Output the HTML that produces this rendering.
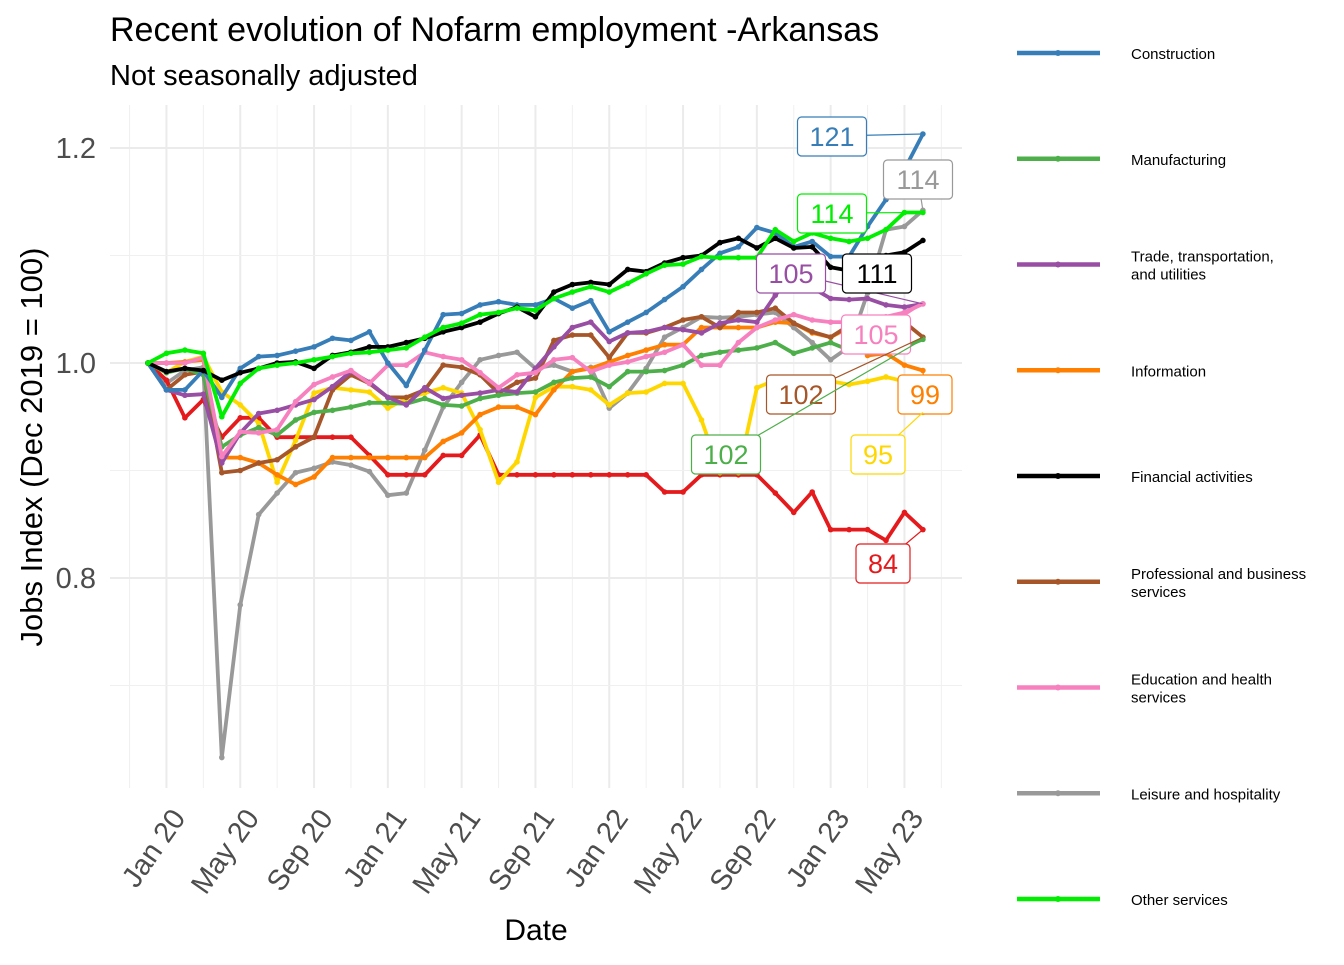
<!DOCTYPE html>
<html><head><meta charset="utf-8">
<style>
html,body{margin:0;padding:0;background:#fff;}
svg text{font-family:"Liberation Sans",Arial,sans-serif;}
</style></head>
<body>
<svg id="chart" width="1344" height="960" xmlns="http://www.w3.org/2000/svg">
<rect width="1344" height="960" fill="#fff"/>
<g id="grid"></g>
<g id="series"></g>
<g id="labels"></g>
<g id="axes"></g>
<g id="legend"></g>
<text x="110" y="41" font-size="34" fill="#000">Recent evolution of Nofarm employment -Arkansas</text>
<text x="110" y="85" font-size="29" fill="#000">Not seasonally adjusted</text>
<text x="536" y="940" font-size="30" text-anchor="middle" fill="#000">Date</text>
<text transform="translate(42,447) rotate(-90)" font-size="31" text-anchor="middle" fill="#000">Jobs Index (Dec 2019 = 100)</text>
</svg>
<script>
const NS="http://www.w3.org/2000/svg";
const names=["Construction","Manufacturing","Trade, transportation,|and utilities","Information","Financial activities","Professional and business|services","Education and health|services","Leisure and hospitality","Other services"];
const colors=["#377eb8","#4daf4a","#984ea3","#ff7f00","#000000","#a65628","#f781bf","#999999","#00ee00","#e41a1c","#ffd700"];
const construction=[100,97.5,97.5,99.3,96.8,99.5,100.6,100.7,101.1,101.5,102.3,102.1,102.9,100,97.9,101.2,104.5,104.6,105.4,105.7,105.4,105.4,106,105.1,105.8,102.9,103.8,104.7,105.9,107.1,108.7,110.2,110.8,112.6,112.1,110.8,111.3,109.9,109.9,112.7,115.2,118,121.3];
const manufacturing=[100,99.1,99.5,98.9,92.2,93.3,94,93.3,94.7,95.4,95.6,95.9,96.3,96.3,96.2,96.7,96.1,96,96.7,97,97.2,97.3,98.2,98.6,98.7,97.8,99.2,99.2,99.3,99.8,100.7,101,101.2,101.4,101.9,100.9,101.4,101.9,101.2,101,101,101.5,102.2];
const trade=[100,97.5,97,97.1,90.7,93.5,95.3,95.6,96.1,96.6,97.8,99.2,98.2,96.8,96.1,97.7,96.7,97,97.2,97.5,97.3,99.5,101.5,103.3,103.8,102,102.8,102.9,103.3,103.1,102.8,103.7,104,103.8,106.3,108.5,107,106,105.9,106,105.4,105.2,105.5];
const information=[100,100,100.1,100.3,91.2,91.2,90.7,89.6,88.7,89.4,91.2,91.2,91.2,91.2,91.2,91.2,92.7,93.5,95.2,95.9,95.9,95.2,97.5,99.2,99.5,100.1,100.7,101.2,101.7,101.7,103.3,103.3,103.3,103.3,103.8,103.7,102.8,102.4,103.3,100.7,100.9,99.8,99.3];
const financial=[100,99.2,99.5,99.3,98.4,99.1,99.5,100,100.1,99.5,100.7,101,101.5,101.5,101.9,102.3,102.9,103.3,103.8,104.6,105.2,104.3,106.6,107.3,107.5,107.3,108.7,108.5,109.3,109.8,110,111.2,111.6,110.7,111.6,110.7,110.8,108.9,108.6,109,110,110.3,111.4];
const professional=[100,97.5,98.9,99.2,89.8,90,90.7,91,92.2,93.1,97.5,98.9,98.1,96.8,96.8,97.5,99.8,99.6,98.9,97.2,98.2,98.6,102.1,102.6,102.6,100.5,102.8,102.8,103.3,104,104.3,103.3,104.7,104.7,105.1,103.7,102.9,102.4,103.5,103.6,103.7,103.8,102.4];
const education=[100,100,100,100.5,91.3,93.6,93.5,93.8,96.4,98,98.7,99.3,98.1,99.8,99.8,101,100.6,100.3,99.1,97.7,98.9,99.1,100.3,100.5,99.2,99.8,100.1,100.6,101,101.7,99.8,99.8,101.9,103.3,104,104.5,104,103.8,103.8,104,104.3,104.7,105.5];
const leisure=[100,98.1,99.3,99.6,63.3,77.5,85.9,87.9,89.8,90.2,90.8,90.5,89.9,87.7,87.9,91.9,95.9,98.2,100.3,100.7,101,99.5,99.8,99.2,99.6,95.8,97.2,99.5,102.4,103.3,104.3,104.2,104.3,104.5,104.7,103.3,101.9,100.3,101.5,106.5,112.4,112.7,114.2];
const other=[100,100.9,101.2,100.9,95,98.1,99.5,99.8,100,100.3,100.6,100.9,101,101.2,101.4,102.4,103.3,103.7,104.5,104.7,105.1,104.9,106,106.6,107.1,106.6,107.4,108.3,109.1,109.2,109.9,109.8,109.8,109.8,112.4,111.3,112.1,111.6,111.3,111.6,112.4,114,114];
const government=[100,98.4,94.9,96.6,93.1,94.9,94.9,93.1,93.1,93.1,93.1,93.1,91.4,89.6,89.6,89.6,91.4,91.4,93.3,89.6,89.6,89.6,89.6,89.6,89.6,89.6,89.6,89.6,88,88,89.6,89.6,89.6,89.6,87.9,86.1,88,84.5,84.5,84.5,83.5,86.1,84.5];
const mining=[100,99.1,100.1,100.6,97.3,96.1,94.4,88.9,92.8,97.2,97.7,97.5,97.3,95.8,96.7,97.2,97.7,97.2,93.8,88.9,90.8,96.8,97.8,97.8,97.5,96.1,97.2,97.3,98.1,98.1,94.7,89.8,89.8,97.7,98.4,98.2,98.5,98.3,98,98.3,98.7,98.3,95.4];
const seriesData=[construction,manufacturing,trade,information,financial,professional,education,leisure,other,government,mining];
const seriesNames=["construction","manufacturing","trade","information","financial","professional","education","leisure","other-services","government","mining"];
const xTickLabels=["Jan 20","May 20","Sep 20","Jan 21","May 21","Sep 21","Jan 22","May 22","Sep 22","Jan 23","May 23"];
const xTickMonths=[1,5,9,13,17,21,25,29,33,37,41];
const yTicks=[0.8,1.0,1.2];
const yMinor=[0.7,0.9,1.1];
const endLabels=[["121",0],["114",7],["114",8],["105",2],["111",4],["105",6],["102",5],["99",3],["102",1],["95",10],["84",9]];
const labelPos=[[832,136],[918,179],[832,213],[791,273],[877,273],[876,334],[801,394],[925,394],[726,454],[878,454],[883,563]];

const X=m=>148+m*18.45;
const Y=v=>363-(v-1)*1075;
function el(t,a,p){const e=document.createElementNS(NS,t);for(const k in a)e.setAttribute(k,a[k]);p.appendChild(e);return e;}
const grid=document.getElementById('grid');
for(let i=0;i<=11;i++){const m=xTickMonths[0]-2+i*4;const g=el('line',{x1:X(m),x2:X(m),y1:105,y2:788,stroke:'#f0f0f0','stroke-width':1},grid);}
for(const m of xTickMonths){const g=el('line',{x1:X(m),x2:X(m),y1:105,y2:788,stroke:'#ebebeb','stroke-width':2},grid);}
for(const v of yMinor){const g=el('line',{x1:110,x2:962,y1:Y(v),y2:Y(v),stroke:'#f0f0f0','stroke-width':1},grid);}
for(const v of yTicks){const g=el('line',{x1:110,x2:962,y1:Y(v),y2:Y(v),stroke:'#ebebeb','stroke-width':2},grid);}
const axes=document.getElementById('axes');
yTicks.forEach(v=>{const t=el('text',{x:96,y:Y(v)+10,'font-size':29,'text-anchor':'end',fill:'#4d4d4d'},axes);t.textContent=v.toFixed(1);});
xTickLabels.forEach((s,i)=>{const x=X(xTickMonths[i]);const t=el('text',{transform:`translate(${x+20},${818}) rotate(-55)`,'font-size':29,'text-anchor':'end',fill:'#4d4d4d'},axes);t.textContent=s;});
const sg=document.getElementById('series');
const order=[7,9,10,3,5,1,2,6,0,4,8];
for(const s of order){const d=seriesData[s];const g=el('g',{},sg);
 const pts=d.map((v,i)=>X(i).toFixed(1)+','+Y(v/100).toFixed(1)).join(' ');
 const l=el('polyline',{points:pts,fill:'none',stroke:colors[s],'stroke-width':3.8,'stroke-linejoin':'round'},g);
 d.forEach((v,i)=>{const c=el('circle',{cx:X(i),cy:Y(v/100),r:2.8,fill:colors[s]},g);});
}
const lg=document.getElementById('labels');
endLabels.forEach((e,k)=>{const s=e[1];const d=seriesData[s];const [cx,cy]=labelPos[k];const w=e[0].length*15+24;
 const g=el('g',{},lg);
 el('line',{x1:cx,y1:cy,x2:X(d.length-1),y2:Y(d[d.length-1]/100),stroke:colors[s],'stroke-width':1.2},g);
 el('rect',{x:cx-w/2,y:cy-19,width:w,height:39,rx:4,fill:'#fff',stroke:colors[s],'stroke-width':1.2},g);
 const t=el('text',{x:cx,y:cy+10,'font-size':27,'text-anchor':'middle',fill:colors[s]},g);t.textContent=e[0];});
const leg=document.getElementById('legend');
names.forEach((n,i)=>{const y=53+i*105.75;const g=el('g',{},leg);
 el('line',{x1:1017,x2:1100,y1:y,y2:y,stroke:colors[i],'stroke-width':4.5},g);
 el('circle',{cx:1058,cy:y,r:3,fill:colors[i]},g);
 const parts=n.split('|');
 parts.forEach((p,j)=>{const t=el('text',{x:1131,y:y+6+(parts.length>1?(j*18-9):0),'font-size':15,fill:'#000'},g);t.textContent=p;});
});
</script>
</body></html>
